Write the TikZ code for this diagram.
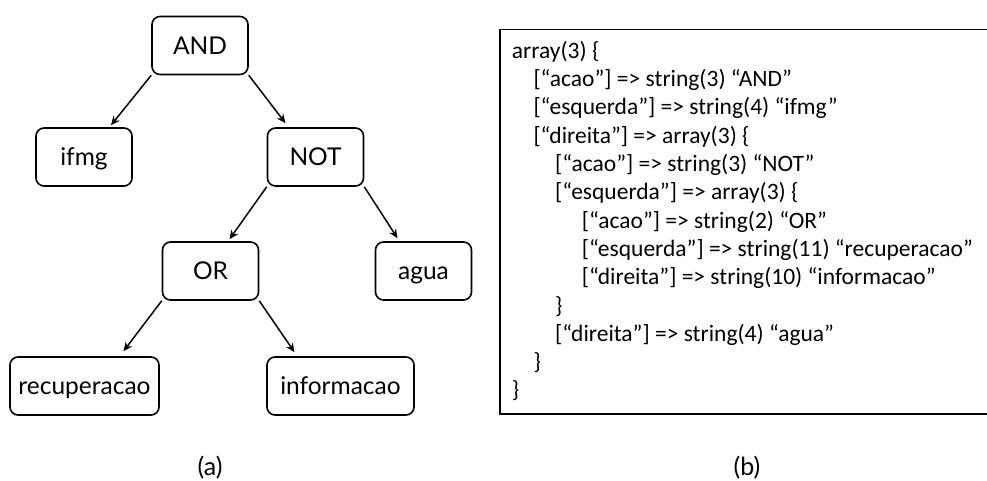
\documentclass[tikz,border=0pt]{standalone}
\usepackage{fontspec}
\setmainfont{Carlito}
\newfontfamily\alberofont{Lato}
\usetikzlibrary{arrows.meta}

\begin{document}
\begin{tikzpicture}[x=1pt, y=-1pt,
	nodo/.style={draw, rounded corners=8pt, line width=1.6pt, minimum width=96pt, minimum height=58pt, inner sep=0pt, text height=17.6pt, text depth=0pt, font=\alberofont\fontsize{24.5}{28}\selectfont},
	freccia/.style={-{Stealth[length=9pt, width=8pt]}, line width=1.5pt},
	riga/.style={anchor=base west, inner sep=0pt, font=\fontsize{23.5}{26}\selectfont},
	etichetta/.style={inner sep=0pt, font=\alberofont\fontsize{25}{28}\selectfont}]
	
	\useasboundingbox (0,0) rectangle (987,480);
	
	%%% Albero
	\node[nodo] (AND) at (200,45.5) {AND};
	\node[nodo] (ifmg) at (84,157) {ifmg};
	\node[nodo] (NOT) at (315.5,157) {NOT};
	\node[nodo] (OR) at (210.5,271) {OR};
	\node[nodo] (agua) at (423.5,271) {agua};
	\node[nodo, minimum width=149pt] (recup) at (84.5,386) {recuperacao};
	\node[nodo, minimum width=147pt] (info) at (340.5,386) {informacao};
	
	%%% Frecce
	\draw[freccia] (AND.south west) -- ([xshift=27pt, yshift=2pt]ifmg.north);
	\draw[freccia] (AND.south east) -- ([xshift=-30pt, yshift=4pt]NOT.north);
	\draw[freccia] (NOT.south west) -- ([xshift=19pt, yshift=2pt]OR.north);
	\draw[freccia] (NOT.south east) -- ([xshift=-26pt, yshift=3pt]agua.north);
	\draw[freccia] (OR.south west) -- ([xshift=39pt, yshift=5pt]recup.north);
	\draw[freccia] (OR.south east) -- ([xshift=-46pt, yshift=4pt]info.north);
	
	%%% Codice
	\draw[line width=1.3pt] (500,29.5) rectangle (990,414);
	\node[riga] (r1) at (511.7,58.3) {array(3) \{};
	\node[riga] (r2) at (533.3,86.6) {[“acao”] => string(3) “AND”};
	\node[riga] (r3) at (533.3,114.9) {[“esquerda”] => string(4) “ifmg”};
	\node[riga] (r4) at (533.3,143.2) {[“direita”] => array(3) \{};
	\node[riga] (r5) at (555,171.5) {[“acao”] => string(3) “NOT”};
	\node[riga] (r6) at (555,199.8) {[“esquerda”] => array(3) \{};
	\node[riga] (r7) at (581.7,228.1) {[“acao”] => string(2) “OR”};
	\node[riga] (r8) at (581.7,256.4) {[“esquerda”] => string(11) “recuperacao”};
	\node[riga] (r9) at (581.7,284.7) {[“direita”] => string(10) “informacao”};
	\node[riga] (r10) at (555,313) {\}};
	\node[riga] (r11) at (555,341.3) {[“direita”] => string(4) “agua”};
	\node[riga] (r12) at (533.3,369.6) {\}};
	\node[riga] (r13) at (511.7,397.9) {\}};
	
	%%% Didascalie
	\node[etichetta] (didA) at (210,468) {(a)};
	\node[etichetta] (didB) at (747,468) {(b)};
\end{tikzpicture}
\end{document}
